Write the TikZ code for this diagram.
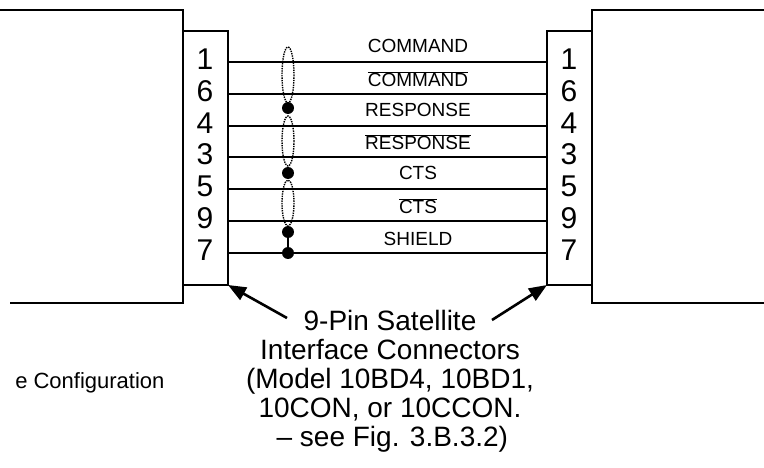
\documentclass[tikz,border=0pt]{standalone}
\usepackage{fontspec}
\setmainfont{Liberation Sans}
\usetikzlibrary{arrows.meta}
\tikzstyle{wire} = [line width=1.6pt]
\tikzstyle{pin} = [font=\fontsize{30}{30}\selectfont]
\tikzstyle{signal} = [font=\fontsize{19}{19}\selectfont]
\tikzstyle{twist} = [densely dotted,line width=1.4pt]
\tikzstyle{junction} = [circle,inner sep=0pt,minimum size=12pt,fill=black]
\tikzstyle{pointer} = [-{Triangle[length=18pt,width=14pt]},line width=2.6pt]
\begin{document}
\begin{tikzpicture}[x=1pt,y=-1pt]
    \useasboundingbox (0,0) rectangle (764,468);
    % equipment boxes and connectors
    \draw [wire] (0,10) -- (183,10) -- (183,303) -- (10,303);
    \draw [wire] (183,31) rectangle (228,285);
    \draw [wire] (764,10) -- (592,10) -- (592,303) -- (764,303);
    \draw [wire] (547,31) rectangle (592,285);
    \coordinate (cl) at (228,285);
    \coordinate (cr) at (547,285);

    % wires with pin numbers
    \foreach \p/\y in {1/62,6/94,4/126,3/157,5/189,9/221,7/253} {
      \node[pin] (l\p) at (205,\y-3) {\p};
      \node[pin] (r\p) at (569,\y-3) {\p};
      \draw [wire] (228,\y) -- (547,\y);
    }

    % signal names
    \node[signal] (s1) at (418,46) {COMMAND};
    \node[signal] (s2) at (418,79) {$\overline{\mbox{COMMAND}}$};
    \node[signal] (s3) at (418,110) {RESPONSE};
    \node[signal] (s4) at (418,142) {$\overline{\mbox{RESPONSE}}$};
    \node[signal] (s5) at (418,173) {CTS};
    \node[signal] (s6) at (418,206) {$\overline{\mbox{CTS}}$};
    \node[signal] (s7) at (418,239) {SHIELD};

    % twisted pairs and shield drains
    \draw [twist] (288,75) ellipse (6 and 28);
    \draw [twist] (288,141) ellipse (6 and 25);
    \draw [twist] (288,203) ellipse (6 and 23);
    \node[junction] (d1) at (288,108) {};
    \node[junction] (d2) at (288,173) {};
    \node[junction] (d3) at (288,232) {};
    \node[junction] (d4) at (288,253) {};
    \draw [wire] (d3) -- (d4);

    % captions
    \node[font=\fontsize{28}{29}\selectfont,align=center] (cap) at (390,381)
      {9-Pin Satellite\\Interface Connectors\\(Model 10BD4, 10BD1,\\10CON, or 10CCON.\\\,-- see Fig. 3.B.3.2)};
    \node[font=\fontsize{22}{22}\selectfont,anchor=east] (cfg) at (168,383) {e Configuration};
    \draw [pointer] (287,318) -- (cl);
    \draw [pointer] (492,320) -- (cr);
\end{tikzpicture}
\end{document}
